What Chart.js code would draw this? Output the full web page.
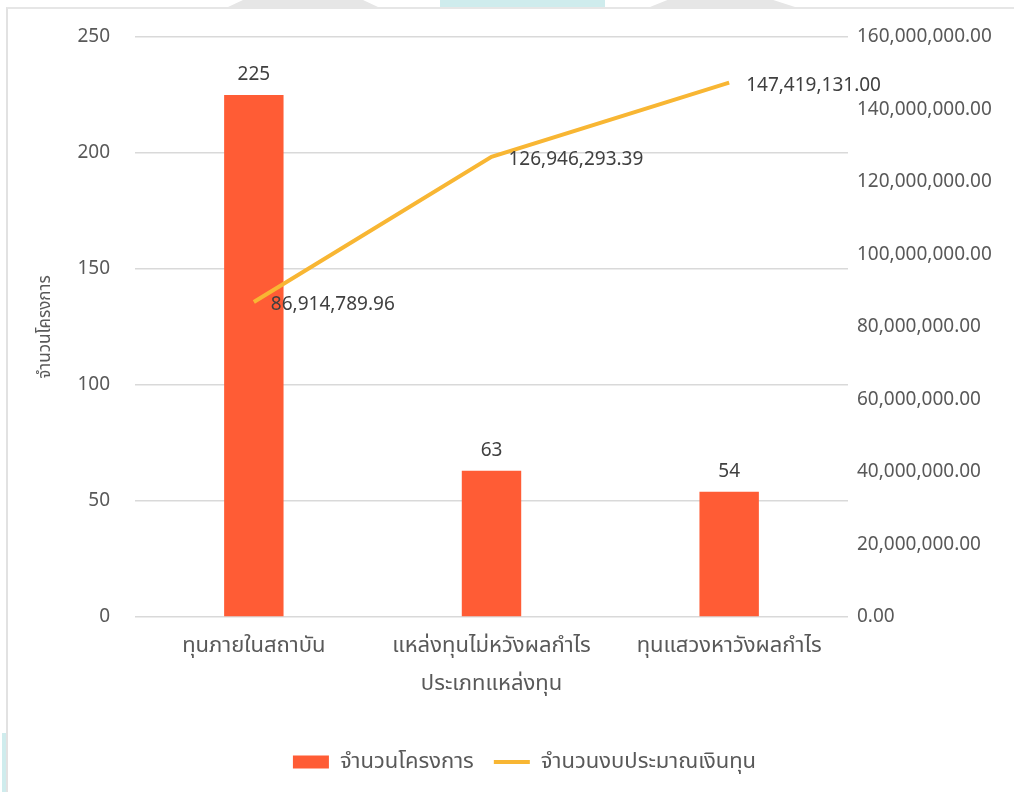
<!DOCTYPE html>
<html>
<head>
    <meta charset="utf-8">
    <title>ประเภทแหล่งทุน</title>
    <script src="https://cdn.jsdelivr.net/npm/chart.js@4.4.0/dist/chart.umd.min.js"></script>
    <style>
        body { margin: 0; background: #fff; width: 1014px; height: 792px; overflow: hidden; position: relative; }
        .frame { position: absolute; left: 6px; top: 7px; right: 0; bottom: 0; border-left: 2px solid #e2e2e2; border-top: 2px solid #e6e6e6; }
        .deco { position: absolute; top: 0; height: 7px; }
        .grey1 { left: 228px; width: 150px; background: #e6e6e6; clip-path: polygon(10% 0, 90% 0, 100% 100%, 0 100%); }
        .teal { left: 440px; width: 165px; background: #cfeced; }
        .grey2 { left: 650px; width: 145px; background: #e6e6e6; clip-path: polygon(12% 0, 85% 0, 100% 100%, 0 100%); }
        .side { position: absolute; left: 2px; top: 733px; width: 4px; height: 59px; background: #cfeced; }
        #wrap { position: absolute; left: 0; top: 0; width: 1014px; height: 792px; }
    </style>
</head>
<body>
    <div class="deco grey1"></div>
    <div class="deco teal"></div>
    <div class="deco grey2"></div>
    <div class="side"></div>
    <div class="frame"></div>
    <div id="wrap"><canvas id="myChart"></canvas></div>

    <script>
        var categories = ["ทุนภายในสถาบัน", "แหล่งทุนไม่หวังผลกำไร", "ทุนแสวงหาวังผลกำไร"];
        var projectCounts = [225, 63, 54];
        var budgets = [86914789.96, 126946293.39, 147419131.00];
        var seriesNames = ["จำนวนโครงการ", "จำนวนงบประมาณเงินทุน"];
        var xTitle = "ประเภทแหล่งทุน";
        var yTitle = "จำนวนโครงการ";

        var fontFamily = '"Noto Sans", "Noto Sans Thai", sans-serif';
        var textGrey = "#595959";
        var numSize = 19;
        var thaiSize = 22;

        function money(v) {
            return Number(v).toLocaleString("en-US", { minimumFractionDigits: 2, maximumFractionDigits: 2 });
        }

        // labels above the bars and to the right of the line points
        var valueLabels = {
            id: "valueLabels",
            afterDatasetsDraw: function (chart) {
                var ctx = chart.ctx;
                ctx.save();
                ctx.font = numSize + "px " + fontFamily;
                ctx.fillStyle = "#404040";
                chart.getDatasetMeta(0).data.forEach(function (bar, i) {
                    ctx.textAlign = "center";
                    ctx.textBaseline = "bottom";
                    ctx.fillText(projectCounts[i], bar.x, bar.y - 11);
                });
                chart.getDatasetMeta(1).data.forEach(function (pt, i) {
                    ctx.textAlign = "left";
                    ctx.textBaseline = "middle";
                    ctx.fillText(money(budgets[i]), pt.x + 17, pt.y + 3);
                });
                ctx.restore();
            }
        };

        Chart.defaults.font.family = fontFamily;
        Chart.defaults.color = textGrey;

        new Chart(document.getElementById("myChart"), {
            type: "bar",
            data: {
                labels: categories,
                datasets: [
                    {
                        type: "bar",
                        label: seriesNames[0],
                        data: projectCounts,
                        backgroundColor: "#FF5C35",
                        borderWidth: 0,
                        barPercentage: 1,
                        categoryPercentage: 0.25,
                        yAxisID: "y",
                        order: 1,
                        pointStyle: "rect"
                    },
                    {
                        type: "line",
                        label: seriesNames[1],
                        data: budgets,
                        borderColor: "#F8B633",
                        backgroundColor: "#F8B633",
                        borderWidth: 4,
                        pointRadius: 0,
                        tension: 0,
                        yAxisID: "y1",
                        order: 0,
                        pointStyle: "line"
                    }
                ]
            },
            options: {
                responsive: true,
                maintainAspectRatio: false,
                animation: false,
                layout: { padding: { left: 35, top: 37, right: 0, bottom: 9 } },
                plugins: {
                    tooltip: { enabled: false },
                    legend: {
                        position: "bottom",
                        labels: {
                            usePointStyle: true,
                            pointStyleWidth: 36,
                            boxHeight: 13,
                            padding: 20,
                            color: textGrey,
                            font: { size: thaiSize },
                            sort: function (a, b) { return a.datasetIndex - b.datasetIndex; }
                        }
                    }
                },
                scales: {
                    x: {
                        grid: { display: false, drawTicks: false },
                        border: { display: false },
                        ticks: { padding: 16, font: { size: thaiSize }, color: textGrey },
                        title: { display: true, text: xTitle, font: { size: thaiSize }, color: textGrey, padding: { top: 0, bottom: 34 } },
                        afterFit: function (s) { s.height = 114; }
                    },
                    y: {
                        position: "left",
                        min: 0,
                        max: 250,
                        ticks: { stepSize: 50, padding: 25, font: { size: numSize }, color: textGrey },
                        grid: { color: "#d9d9d9", lineWidth: 1.5, drawTicks: false },
                        border: { display: false },
                        title: { display: true, text: yTitle, font: { size: 17 }, color: textGrey, padding: 0 },
                        afterFit: function (s) { s.width = 100; }
                    },
                    y1: {
                        position: "right",
                        min: 0,
                        max: 160000000,
                        ticks: {
                            stepSize: 20000000,
                            padding: 9,
                            font: { size: numSize },
                            color: textGrey,
                            callback: function (v) { return money(v); }
                        },
                        grid: { display: false, drawTicks: false },
                        border: { display: false },
                        afterFit: function (s) { s.width = 166; }
                    }
                }
            },
            plugins: [valueLabels]
        });
    </script>
</body>
</html>
